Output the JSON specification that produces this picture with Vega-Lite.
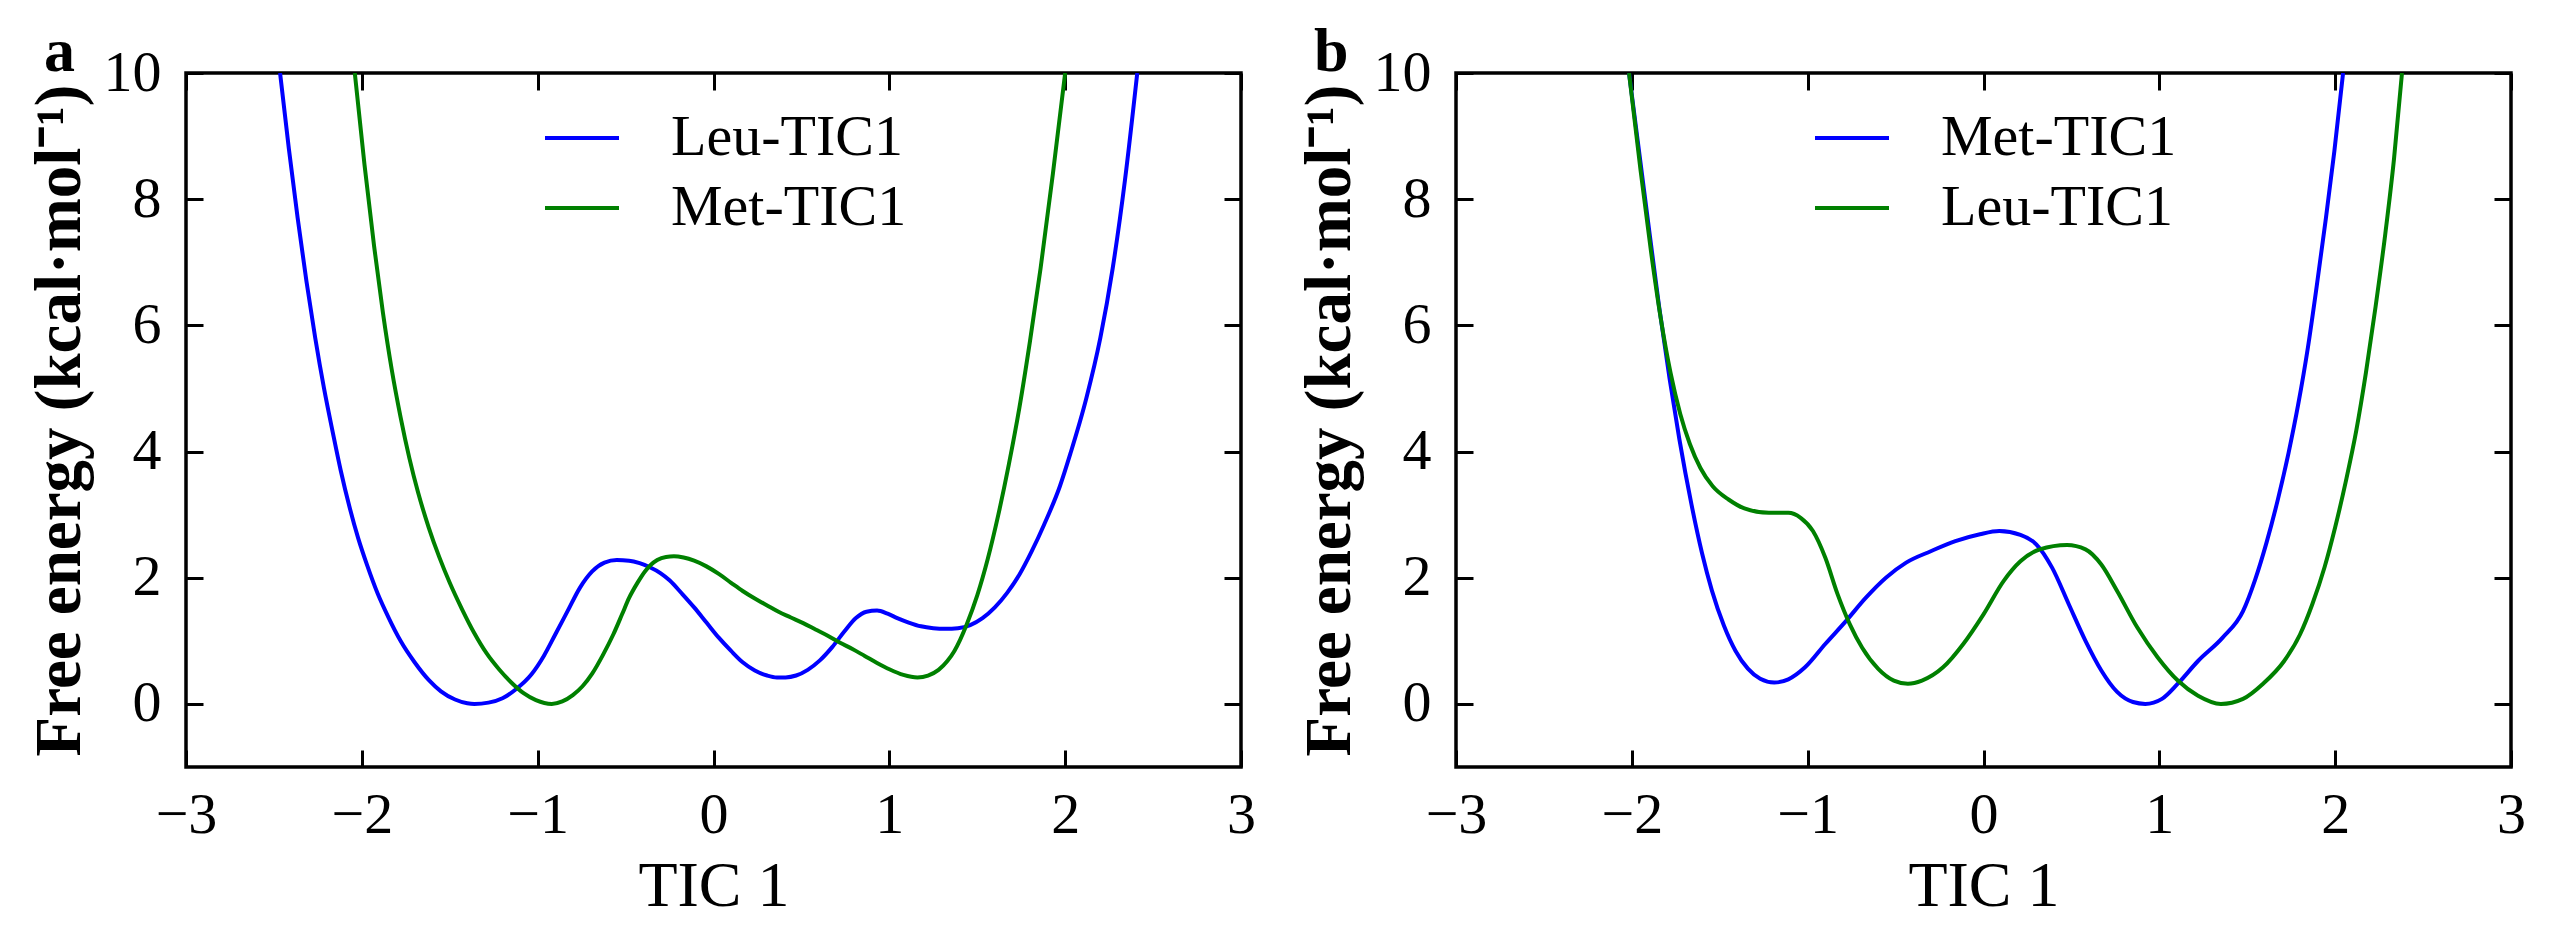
{
  "$schema": "https://vega.github.io/schema/vega-lite/v6.json",
  "background": "white",
  "padding": {"left": 25, "top": 19, "right": 0, "bottom": 0},
  "spacing": 37,
  "datasets": {
    "a": [
      {"series":"Leu-TIC1","x":-2.465,"y":10},{"series":"Leu-TIC1","x":-2.415,"y":8.8},{"series":"Leu-TIC1","x":-2.365,"y":7.7},{"series":"Leu-TIC1","x":-2.315,"y":6.7},{"series":"Leu-TIC1","x":-2.265,"y":5.8},{"series":"Leu-TIC1","x":-2.215,"y":5.0},{"series":"Leu-TIC1","x":-2.165,"y":4.3},{"series":"Leu-TIC1","x":-2.12,"y":3.7},{"series":"Leu-TIC1","x":-2.07,"y":3.12},{"series":"Leu-TIC1","x":-2.02,"y":2.62},{"series":"Leu-TIC1","x":-1.97,"y":2.2},{"series":"Leu-TIC1","x":-1.91,"y":1.75},{"series":"Leu-TIC1","x":-1.85,"y":1.38},{"series":"Leu-TIC1","x":-1.78,"y":1.0},{"series":"Leu-TIC1","x":-1.7,"y":0.66},{"series":"Leu-TIC1","x":-1.62,"y":0.38},{"series":"Leu-TIC1","x":-1.55,"y":0.2},{"series":"Leu-TIC1","x":-1.47,"y":0.07},{"series":"Leu-TIC1","x":-1.4,"y":0.01},{"series":"Leu-TIC1","x":-1.36,"y":0},{"series":"Leu-TIC1","x":-1.28,"y":0.02},{"series":"Leu-TIC1","x":-1.2,"y":0.09},{"series":"Leu-TIC1","x":-1.12,"y":0.24},{"series":"Leu-TIC1","x":-1.035,"y":0.47},{"series":"Leu-TIC1","x":-0.965,"y":0.76},{"series":"Leu-TIC1","x":-0.9,"y":1.1},{"series":"Leu-TIC1","x":-0.83,"y":1.47},{"series":"Leu-TIC1","x":-0.76,"y":1.84},{"series":"Leu-TIC1","x":-0.69,"y":2.1},{"series":"Leu-TIC1","x":-0.62,"y":2.24},{"series":"Leu-TIC1","x":-0.55,"y":2.28},{"series":"Leu-TIC1","x":-0.48,"y":2.27},{"series":"Leu-TIC1","x":-0.42,"y":2.23},{"series":"Leu-TIC1","x":-0.365,"y":2.17},{"series":"Leu-TIC1","x":-0.3,"y":2.07},{"series":"Leu-TIC1","x":-0.25,"y":1.96},{"series":"Leu-TIC1","x":-0.18,"y":1.75},{"series":"Leu-TIC1","x":-0.11,"y":1.53},{"series":"Leu-TIC1","x":-0.04,"y":1.29},{"series":"Leu-TIC1","x":0.03,"y":1.05},{"series":"Leu-TIC1","x":0.1,"y":0.84},{"series":"Leu-TIC1","x":0.166,"y":0.66},{"series":"Leu-TIC1","x":0.235,"y":0.53},{"series":"Leu-TIC1","x":0.305,"y":0.45},{"series":"Leu-TIC1","x":0.36,"y":0.42},{"series":"Leu-TIC1","x":0.41,"y":0.42},{"series":"Leu-TIC1","x":0.47,"y":0.45},{"series":"Leu-TIC1","x":0.536,"y":0.54},{"series":"Leu-TIC1","x":0.605,"y":0.69},{"series":"Leu-TIC1","x":0.675,"y":0.9},{"series":"Leu-TIC1","x":0.745,"y":1.15},{"series":"Leu-TIC1","x":0.81,"y":1.36},{"series":"Leu-TIC1","x":0.87,"y":1.46},{"series":"Leu-TIC1","x":0.93,"y":1.48},{"series":"Leu-TIC1","x":0.99,"y":1.43},{"series":"Leu-TIC1","x":1.045,"y":1.36},{"series":"Leu-TIC1","x":1.11,"y":1.29},{"series":"Leu-TIC1","x":1.18,"y":1.23},{"series":"Leu-TIC1","x":1.25,"y":1.2},{"series":"Leu-TIC1","x":1.32,"y":1.19},{"series":"Leu-TIC1","x":1.39,"y":1.2},{"series":"Leu-TIC1","x":1.46,"y":1.25},{"series":"Leu-TIC1","x":1.53,"y":1.36},{"series":"Leu-TIC1","x":1.6,"y":1.53},{"series":"Leu-TIC1","x":1.67,"y":1.76},{"series":"Leu-TIC1","x":1.74,"y":2.05},{"series":"Leu-TIC1","x":1.81,"y":2.42},{"series":"Leu-TIC1","x":1.88,"y":2.84},{"series":"Leu-TIC1","x":1.97,"y":3.45},{"series":"Leu-TIC1","x":2.03,"y":3.97},{"series":"Leu-TIC1","x":2.12,"y":4.84},{"series":"Leu-TIC1","x":2.2,"y":5.8},{"series":"Leu-TIC1","x":2.27,"y":6.9},{"series":"Leu-TIC1","x":2.34,"y":8.3},{"series":"Leu-TIC1","x":2.41,"y":10},
      {"series":"Met-TIC1","x":-2.04,"y":10},{"series":"Met-TIC1","x":-1.985,"y":8.55},{"series":"Met-TIC1","x":-1.93,"y":7.25},{"series":"Met-TIC1","x":-1.88,"y":6.2},{"series":"Met-TIC1","x":-1.83,"y":5.3},{"series":"Met-TIC1","x":-1.78,"y":4.55},{"series":"Met-TIC1","x":-1.73,"y":3.9},{"series":"Met-TIC1","x":-1.68,"y":3.35},{"series":"Met-TIC1","x":-1.62,"y":2.8},{"series":"Met-TIC1","x":-1.56,"y":2.33},{"series":"Met-TIC1","x":-1.5,"y":1.92},{"series":"Met-TIC1","x":-1.43,"y":1.5},{"series":"Met-TIC1","x":-1.36,"y":1.12},{"series":"Met-TIC1","x":-1.29,"y":0.8},{"series":"Met-TIC1","x":-1.22,"y":0.55},{"series":"Met-TIC1","x":-1.15,"y":0.34},{"series":"Met-TIC1","x":-1.08,"y":0.17},{"series":"Met-TIC1","x":-1.01,"y":0.06},{"series":"Met-TIC1","x":-0.92,"y":0},{"series":"Met-TIC1","x":-0.86,"y":0.04},{"series":"Met-TIC1","x":-0.8,"y":0.14},{"series":"Met-TIC1","x":-0.745,"y":0.28},{"series":"Met-TIC1","x":-0.69,"y":0.48},{"series":"Met-TIC1","x":-0.63,"y":0.77},{"series":"Met-TIC1","x":-0.57,"y":1.1},{"series":"Met-TIC1","x":-0.52,"y":1.42},{"series":"Met-TIC1","x":-0.48,"y":1.68},{"series":"Met-TIC1","x":-0.43,"y":1.93},{"series":"Met-TIC1","x":-0.39,"y":2.1},{"series":"Met-TIC1","x":-0.32,"y":2.28},{"series":"Met-TIC1","x":-0.27,"y":2.33},{"series":"Met-TIC1","x":-0.225,"y":2.34},{"series":"Met-TIC1","x":-0.17,"y":2.32},{"series":"Met-TIC1","x":-0.11,"y":2.27},{"series":"Met-TIC1","x":-0.04,"y":2.18},{"series":"Met-TIC1","x":0.03,"y":2.06},{"series":"Met-TIC1","x":0.1,"y":1.92},{"series":"Met-TIC1","x":0.166,"y":1.79},{"series":"Met-TIC1","x":0.235,"y":1.67},{"series":"Met-TIC1","x":0.305,"y":1.56},{"series":"Met-TIC1","x":0.37,"y":1.46},{"series":"Met-TIC1","x":0.44,"y":1.37},{"series":"Met-TIC1","x":0.51,"y":1.28},{"series":"Met-TIC1","x":0.58,"y":1.18},{"series":"Met-TIC1","x":0.65,"y":1.08},{"series":"Met-TIC1","x":0.72,"y":0.97},{"series":"Met-TIC1","x":0.79,"y":0.87},{"series":"Met-TIC1","x":0.86,"y":0.76},{"series":"Met-TIC1","x":0.93,"y":0.65},{"series":"Met-TIC1","x":1.0,"y":0.55},{"series":"Met-TIC1","x":1.08,"y":0.46},{"series":"Met-TIC1","x":1.16,"y":0.42},{"series":"Met-TIC1","x":1.22,"y":0.45},{"series":"Met-TIC1","x":1.28,"y":0.54},{"series":"Met-TIC1","x":1.33,"y":0.68},{"series":"Met-TIC1","x":1.37,"y":0.84},{"series":"Met-TIC1","x":1.44,"y":1.26},{"series":"Met-TIC1","x":1.5,"y":1.72},{"series":"Met-TIC1","x":1.56,"y":2.3},{"series":"Met-TIC1","x":1.62,"y":3.0},{"series":"Met-TIC1","x":1.68,"y":3.8},{"series":"Met-TIC1","x":1.74,"y":4.7},{"series":"Met-TIC1","x":1.8,"y":5.75},{"series":"Met-TIC1","x":1.86,"y":6.9},{"series":"Met-TIC1","x":1.93,"y":8.4},{"series":"Met-TIC1","x":2.0,"y":10}
    ],
    "b": [
      {"series":"Met-TIC1","x":-2.016,"y":10},{"series":"Met-TIC1","x":-1.924,"y":8.0},{"series":"Met-TIC1","x":-1.845,"y":6.3},{"series":"Met-TIC1","x":-1.785,"y":5.15},{"series":"Met-TIC1","x":-1.73,"y":4.2},{"series":"Met-TIC1","x":-1.66,"y":3.15},{"series":"Met-TIC1","x":-1.6,"y":2.38},{"series":"Met-TIC1","x":-1.545,"y":1.8},{"series":"Met-TIC1","x":-1.476,"y":1.24},{"series":"Met-TIC1","x":-1.41,"y":0.84},{"series":"Met-TIC1","x":-1.34,"y":0.56},{"series":"Met-TIC1","x":-1.27,"y":0.4},{"series":"Met-TIC1","x":-1.19,"y":0.34},{"series":"Met-TIC1","x":-1.11,"y":0.39},{"series":"Met-TIC1","x":-1.015,"y":0.58},{"series":"Met-TIC1","x":-0.9,"y":0.95},{"series":"Met-TIC1","x":-0.78,"y":1.32},{"series":"Met-TIC1","x":-0.67,"y":1.68},{"series":"Met-TIC1","x":-0.555,"y":2.0},{"series":"Met-TIC1","x":-0.44,"y":2.24},{"series":"Met-TIC1","x":-0.3,"y":2.42},{"series":"Met-TIC1","x":-0.16,"y":2.58},{"series":"Met-TIC1","x":-0.02,"y":2.69},{"series":"Met-TIC1","x":0.09,"y":2.74},{"series":"Met-TIC1","x":0.21,"y":2.68},{"series":"Met-TIC1","x":0.3,"y":2.53},{"series":"Met-TIC1","x":0.39,"y":2.16},{"series":"Met-TIC1","x":0.485,"y":1.58},{"series":"Met-TIC1","x":0.58,"y":1.0},{"series":"Met-TIC1","x":0.67,"y":0.53},{"series":"Met-TIC1","x":0.76,"y":0.19},{"series":"Met-TIC1","x":0.85,"y":0.03},{"series":"Met-TIC1","x":0.92,"y":0},{"series":"Met-TIC1","x":1.015,"y":0.08},{"series":"Met-TIC1","x":1.105,"y":0.32},{"series":"Met-TIC1","x":1.22,"y":0.68},{"series":"Met-TIC1","x":1.36,"y":1.05},{"series":"Met-TIC1","x":1.476,"y":1.47},{"series":"Met-TIC1","x":1.545,"y":1.97},{"series":"Met-TIC1","x":1.61,"y":2.56},{"series":"Met-TIC1","x":1.675,"y":3.25},{"series":"Met-TIC1","x":1.735,"y":3.98},{"series":"Met-TIC1","x":1.79,"y":4.75},{"series":"Met-TIC1","x":1.845,"y":5.65},{"series":"Met-TIC1","x":1.895,"y":6.62},{"series":"Met-TIC1","x":1.945,"y":7.65},{"series":"Met-TIC1","x":1.995,"y":8.75},{"series":"Met-TIC1","x":2.045,"y":10},
      {"series":"Leu-TIC1","x":-2.016,"y":10},{"series":"Leu-TIC1","x":-1.95,"y":8.45},{"series":"Leu-TIC1","x":-1.89,"y":7.15},{"series":"Leu-TIC1","x":-1.835,"y":6.1},{"series":"Leu-TIC1","x":-1.78,"y":5.25},{"series":"Leu-TIC1","x":-1.725,"y":4.6},{"series":"Leu-TIC1","x":-1.67,"y":4.12},{"series":"Leu-TIC1","x":-1.61,"y":3.74},{"series":"Leu-TIC1","x":-1.54,"y":3.45},{"series":"Leu-TIC1","x":-1.45,"y":3.24},{"series":"Leu-TIC1","x":-1.36,"y":3.1},{"series":"Leu-TIC1","x":-1.22,"y":3.03},{"series":"Leu-TIC1","x":-1.11,"y":3.03},{"series":"Leu-TIC1","x":-1.04,"y":2.95},{"series":"Leu-TIC1","x":-0.97,"y":2.74},{"series":"Leu-TIC1","x":-0.9,"y":2.32},{"series":"Leu-TIC1","x":-0.83,"y":1.74},{"series":"Leu-TIC1","x":-0.76,"y":1.26},{"series":"Leu-TIC1","x":-0.69,"y":0.89},{"series":"Leu-TIC1","x":-0.6,"y":0.56},{"series":"Leu-TIC1","x":-0.51,"y":0.37},{"series":"Leu-TIC1","x":-0.43,"y":0.32},{"series":"Leu-TIC1","x":-0.35,"y":0.37},{"series":"Leu-TIC1","x":-0.23,"y":0.58},{"series":"Leu-TIC1","x":-0.115,"y":0.95},{"series":"Leu-TIC1","x":0.0,"y":1.42},{"series":"Leu-TIC1","x":0.115,"y":1.95},{"series":"Leu-TIC1","x":0.21,"y":2.26},{"series":"Leu-TIC1","x":0.32,"y":2.45},{"series":"Leu-TIC1","x":0.475,"y":2.52},{"series":"Leu-TIC1","x":0.58,"y":2.45},{"series":"Leu-TIC1","x":0.67,"y":2.21},{"series":"Leu-TIC1","x":0.76,"y":1.79},{"series":"Leu-TIC1","x":0.875,"y":1.21},{"series":"Leu-TIC1","x":0.99,"y":0.74},{"series":"Leu-TIC1","x":1.105,"y":0.37},{"series":"Leu-TIC1","x":1.22,"y":0.13},{"series":"Leu-TIC1","x":1.35,"y":0},{"series":"Leu-TIC1","x":1.476,"y":0.08},{"series":"Leu-TIC1","x":1.59,"y":0.32},{"series":"Leu-TIC1","x":1.71,"y":0.68},{"series":"Leu-TIC1","x":1.8,"y":1.1},{"series":"Leu-TIC1","x":1.87,"y":1.58},{"series":"Leu-TIC1","x":1.94,"y":2.17},{"series":"Leu-TIC1","x":2.0,"y":2.8},{"series":"Leu-TIC1","x":2.06,"y":3.52},{"series":"Leu-TIC1","x":2.12,"y":4.33},{"series":"Leu-TIC1","x":2.175,"y":5.25},{"series":"Leu-TIC1","x":2.23,"y":6.3},{"series":"Leu-TIC1","x":2.285,"y":7.45},{"series":"Leu-TIC1","x":2.335,"y":8.65},{"series":"Leu-TIC1","x":2.38,"y":10}
    ]
  },
  "hconcat": [
    {
      "title": {"text": "a", "anchor": "start", "frame": "group", "dx": -142, "dy": 40, "offset": 0, "fontSize": 62, "fontWeight": "bold", "font": "Liberation Serif", "color": "black"},
      "width": 1055,
      "height": 694,
      "data": {"name": "a"},
      "layer": [
        {
          "mark": {"type": "line", "strokeWidth": 4, "clip": true, "interpolate": "monotone"},
          "encoding": {
            "x": {"field": "x", "type": "quantitative", "scale": {"domain": [-3, 3], "nice": false, "zero": false},
                  "axis": {"orient": "bottom", "values": [-3,-2,-1,0,1,2,3], "format": "d", "tickSize": -17, "labelPadding": 36, "title": "TIC 1", "titleX": 527.5, "titleY": 138, "titleBaseline": "alphabetic", "titleAlign": "center"}},
            "y": {"field": "y", "type": "quantitative", "scale": {"domain": [-1, 10], "nice": false, "zero": false},
                  "axis": {"orient": "left", "values": [0,2,4,6,8,10], "format": "d", "tickSize": -17, "labelPadding": 42, "title": "Free energy (kcal·mol⁻¹)", "titleFontWeight": "bold", "titleFontSize": 65, "titleAngle": 270, "titleX": -127, "titleY": 347, "titleBaseline": "middle", "titleAlign": "center"}},
            "color": {"field": "series", "type": "nominal", "scale": {"domain": ["Leu-TIC1", "Met-TIC1"], "range": ["#0000ff", "#008000"]},
                      "legend": {"orient": "none", "legendX": 357, "legendY": 26, "title": null, "symbolType": "stroke", "symbolSize": 5476, "symbolStrokeWidth": 4, "labelFontSize": 58, "labelOffset": 50, "rowPadding": 2, "padding": 0, "labelLimit": 0}}
          }
        },
        {
          "mark": {"type": "point", "opacity": 0},
          "encoding": {
            "x": {"field": "x", "type": "quantitative", "scale": {"domain": [-3, 3], "nice": false, "zero": false},
                  "axis": {"orient": "top", "values": [-3,-2,-1,0,1,2,3], "labels": false, "tickSize": -17, "title": null}},
            "y": {"field": "y", "type": "quantitative", "scale": {"domain": [-1, 10], "nice": false, "zero": false},
                  "axis": {"orient": "right", "values": [0,2,4,6,8,10], "labels": false, "tickSize": -17, "title": null}}
          }
        }
      ],
      "resolve": {"axis": {"x": "independent", "y": "independent"}}
    },
    {
      "title": {"text": "b", "anchor": "start", "frame": "group", "dx": -142, "dy": 40, "offset": 0, "fontSize": 62, "fontWeight": "bold", "font": "Liberation Serif", "color": "black"},
      "width": 1055,
      "height": 694,
      "data": {"name": "b"},
      "layer": [
        {
          "mark": {"type": "line", "strokeWidth": 4, "clip": true, "interpolate": "monotone"},
          "encoding": {
            "x": {"field": "x", "type": "quantitative", "scale": {"domain": [-3, 3], "nice": false, "zero": false},
                  "axis": {"orient": "bottom", "values": [-3,-2,-1,0,1,2,3], "format": "d", "tickSize": -17, "labelPadding": 36, "title": "TIC 1", "titleX": 527.5, "titleY": 138, "titleBaseline": "alphabetic", "titleAlign": "center"}},
            "y": {"field": "y", "type": "quantitative", "scale": {"domain": [-1, 10], "nice": false, "zero": false},
                  "axis": {"orient": "left", "values": [0,2,4,6,8,10], "format": "d", "tickSize": -17, "labelPadding": 42, "title": "Free energy (kcal·mol⁻¹)", "titleFontWeight": "bold", "titleFontSize": 65, "titleAngle": 270, "titleX": -127, "titleY": 347, "titleBaseline": "middle", "titleAlign": "center"}},
            "color": {"field": "series", "type": "nominal", "scale": {"domain": ["Met-TIC1", "Leu-TIC1"], "range": ["#0000ff", "#008000"]},
                      "legend": {"orient": "none", "legendX": 357, "legendY": 26, "title": null, "symbolType": "stroke", "symbolSize": 5476, "symbolStrokeWidth": 4, "labelFontSize": 58, "labelOffset": 50, "rowPadding": 2, "padding": 0, "labelLimit": 0}}
          }
        },
        {
          "mark": {"type": "point", "opacity": 0},
          "encoding": {
            "x": {"field": "x", "type": "quantitative", "scale": {"domain": [-3, 3], "nice": false, "zero": false},
                  "axis": {"orient": "top", "values": [-3,-2,-1,0,1,2,3], "labels": false, "tickSize": -17, "title": null}},
            "y": {"field": "y", "type": "quantitative", "scale": {"domain": [-1, 10], "nice": false, "zero": false},
                  "axis": {"orient": "right", "values": [0,2,4,6,8,10], "labels": false, "tickSize": -17, "title": null}}
          }
        }
      ],
      "resolve": {"axis": {"x": "independent", "y": "independent"}}
    }
  ],
  "resolve": {"scale": {"color": "independent"}},
  "config": {
    "font": "Liberation Serif",
    "view": {"stroke": "black", "strokeWidth": 3.5},
    "axis": {"domain": false, "grid": false, "ticks": true, "tickColor": "black", "tickWidth": 3, "labelFont": "Liberation Serif", "labelFontSize": 58, "labelColor": "black", "labelFlush": false, "labelOverlap": false, "titleFont": "Liberation Serif", "titleFontSize": 64, "titleFontWeight": "normal", "titleColor": "black"},
    "legend": {"labelFont": "Liberation Serif", "labelColor": "black"}
  }
}
